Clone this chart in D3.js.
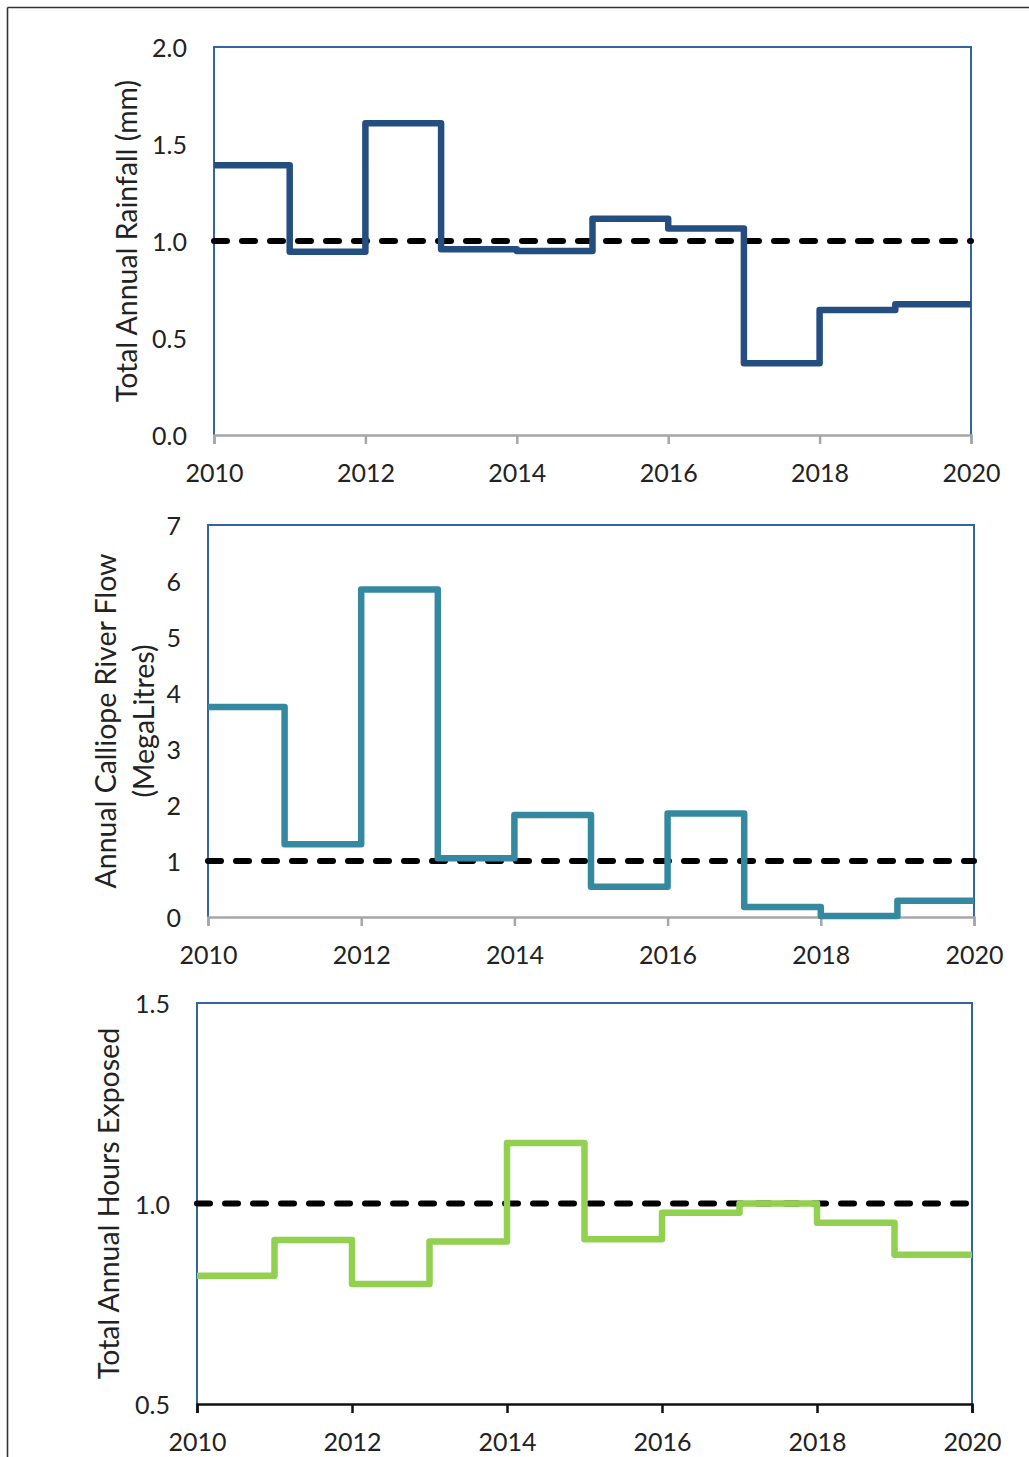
<!DOCTYPE html>
<html>
<head>
<meta charset="utf-8">
<script src="https://cdn.jsdelivr.net/npm/d3@7/dist/d3.min.js"></script>
<style>
  html, body { margin: 0; padding: 0; background: #fff; }
  svg { display: block; }
  text { font-family: Lato, "Open Sans", sans-serif; fill: #222; }
</style>
</head>
<body>
<svg id="chart" width="1029" height="1457"></svg>
<script>
// Years each annual value starts at (step held until the next year)
const years = [2010, 2011, 2012, 2013, 2014, 2015, 2016, 2017, 2018, 2019];
const endYear = 2020;
const xTicks = [2010, 2012, 2014, 2016, 2018, 2020];

// Total annual rainfall (mm)
const rainfall = [1.39, 0.945, 1.607, 0.957, 0.948, 1.115, 1.065, 0.37, 0.644, 0.674];
// Annual Calliope River flow (MegaLitres)
const riverFlow = [3.75, 1.30, 5.85, 1.05, 1.82, 0.54, 1.85, 0.18, 0.02, 0.29];
// Total annual hours exposed
const hoursExposed = [0.82, 0.909, 0.799, 0.905, 1.151, 0.911, 0.977, 1.0, 0.952, 0.872];

const rainTicks = [0, 0.5, 1.0, 1.5, 2.0];
const flowTicks = [0, 1, 2, 3, 4, 5, 6, 7];
const hoursTicks = [0.5, 1.0, 1.5];
const referenceLevel = 1.0;

const tickFont = 25;
const titleFont = 28.5;

const svg = d3.select("#chart");

// outer frame (left and top edges)
svg.append("line").attr("x1", 7.5).attr("x2", 7.5).attr("y1", 7.5).attr("y2", 1457)
  .attr("stroke", "#333").attr("stroke-width", 1.6);
svg.append("line").attr("x1", 7.5).attr("x2", 1029).attr("y1", 7.5).attr("y2", 7.5)
  .attr("stroke", "#333").attr("stroke-width", 1.6);

const panels = [
  {
    values: rainfall, domain: [0, 2], ticks: rainTicks, fmt: d3.format(".1f"),
    left: 214, right: 971, top: 47, bottom: 435,
    color: "#254E80", axisColor: "#a6a6a6",
    title: ["Total Annual Rainfall (mm)"], titleX: [126]
  },
  {
    values: riverFlow, domain: [0, 7], ticks: flowTicks, fmt: d3.format("d"),
    left: 208, right: 974, top: 525, bottom: 917,
    color: "#3489A1", axisColor: "#a6a6a6",
    title: ["Annual Calliope River Flow", "(MegaLitres)"], titleX: [105, 143]
  },
  {
    values: hoursExposed, domain: [0.5, 1.5], ticks: hoursTicks, fmt: d3.format(".1f"),
    left: 197, right: 972, top: 1003, bottom: 1404,
    color: "#92D050", axisColor: "#111",
    title: ["Total Annual Hours Exposed"], titleX: [108]
  }
];

panels.forEach(p => {
  const x = d3.scaleLinear().domain([years[0], endYear]).range([p.left, p.right]);
  const y = d3.scaleLinear().domain(p.domain).range([p.bottom, p.top]);
  const g = svg.append("g");

  // plot frame: left, top, right
  g.append("path")
    .attr("d", `M${p.left},${p.bottom}V${p.top}H${p.right}V${p.bottom}`)
    .attr("fill", "none").attr("stroke", "#3462A3").attr("stroke-width", 2);

  // y tick labels (no tick marks)
  g.selectAll(".ylab").data(p.ticks).join("text")
    .attr("x", p.left - 27).attr("y", d => y(d))
    .attr("text-anchor", "end").attr("dominant-baseline", "central")
    .attr("font-size", tickFont).text(p.fmt);

  // x axis
  const xAxis = d3.axisBottom(x).tickValues(xTicks).tickFormat(d3.format("d"))
    .tickSize(9).tickPadding(20);
  const ax = g.append("g").attr("transform", `translate(0,${p.bottom})`).call(xAxis);
  ax.select(".domain").attr("stroke", p.axisColor).attr("stroke-width", 2.5);
  ax.selectAll(".tick line").attr("stroke", p.axisColor).attr("stroke-width", 2.5);
  ax.selectAll(".tick text").attr("font-size", tickFont).attr("fill", "#222")
    .attr("font-family", "Lato, 'Open Sans', sans-serif");

  // reference line at 1.0
  g.append("line")
    .attr("x1", p.left).attr("x2", p.right)
    .attr("y1", y(referenceLevel)).attr("y2", y(referenceLevel))
    .attr("stroke", "#000").attr("stroke-width", 6)
    .attr("stroke-dasharray", "13 15").attr("stroke-linecap", "round");

  // annual step series; last value held through to the end year
  const pts = years.map((yr, i) => [yr, p.values[i]]);
  pts.push([endYear, p.values[p.values.length - 1]]);
  const line = d3.line().x(d => x(d[0])).y(d => y(d[1])).curve(d3.curveStepAfter);
  g.append("path").datum(pts)
    .attr("d", line)
    .attr("fill", "none").attr("stroke", p.color).attr("stroke-width", 6.5)
    .attr("stroke-linejoin", "round");

  // axis title
  const cy = (p.top + p.bottom) / 2;
  p.title.forEach((t, i) => {
    g.append("text")
      .attr("transform", `translate(${p.titleX[i]},${cy}) rotate(-90)`)
      .attr("text-anchor", "middle").attr("dominant-baseline", "central")
      .attr("font-size", titleFont).text(t);
  });
});
</script>
</body>
</html>
